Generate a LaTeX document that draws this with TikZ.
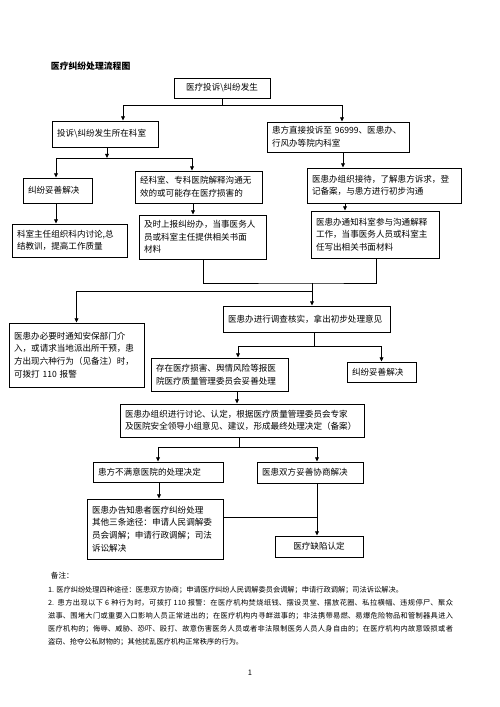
\documentclass[tikz,border=0pt]{standalone}
\usepackage{fontspec}
\setmainfont{Noto Sans CJK SC}
\usetikzlibrary{arrows.meta}
\XeTeXlinebreaklocale "zh"
\XeTeXlinebreakskip = 0pt plus 1pt

\begin{document}
\begin{tikzpicture}[x=1.1906pt, y=-1.1906pt,
		box/.style={draw, line width=1.1pt, inner xsep=6pt, inner ysep=0pt, align=left, font=\fontsize{10.2}{15}\selectfont},
		link/.style={line width=0.9pt},
		arr/.style={line width=0.9pt, -{Triangle[length=5pt,width=4.5pt]}}]
		\useasboundingbox (0,0) rectangle (500,707);
		\node [anchor=west, font=\bfseries\fontsize{10.5}{12}\selectfont] (title) at (48,66) {医疗纠纷处理流程图};

		% upper part of the flow
		\node [box, align=center, minimum width=114.3pt, minimum height=23.8pt] (start) at (222,88) {医疗投诉\textbackslash 纠纷发生};
		\node [box, text width=114.2pt, minimum height=31pt] (place) at (105,134) {投诉\textbackslash 纠纷发生所在科室};
		\node [box, text width=157.1pt, minimum height=35.7pt] (direct) at (338,137) {患方直接投诉至 96999、医患办、\\行风办等院内科室};
		\node [box, text width=70.2pt, minimum height=29.8pt] (done1) at (57.5,190.5) {纠纷妥善解决};
		\node [box, text width=139.2pt, minimum height=38.1pt] (fail) at (198.5,187) {经科室、专科医院解释沟通无\\效的或可能存在医疗损害的};
		\node [box, text width=171.4pt, minimum height=41.7pt] (receive) at (384,185.5) {医患办组织接待，了解患方诉求，登\\记备案，与患方进行初步沟通};
		\node [box, text width=124.9pt, minimum height=39.3pt] (summary) at (69.5,240.5) {科室主任组织科内讨论,总\\结教训，提高工作质量};
		\node [box, text width=139.2pt, minimum height=52.4pt] (report) at (202.5,237) {及时上报纠纷办，当事医务人\\员或科室主任提供相关书面\\材料};
		\node [box, text width=140.4pt, minimum height=56pt] (notify) at (375,234.5) {医患办通知科室参与沟通解释\\工作，当事医务人员或科室主\\任写出相关书面材料};

		% middle part
		\node [box, text width=148.7pt, minimum height=76.2pt] (police) at (76.5,355) {医患办必要时通知安保部门介\\入，或请求当地派出所干预，患\\方出现六种行为（见备注）时，\\可拨打 110 报警};
		\node [box, text width=186.8pt, minimum height=31pt] (check) at (306.5,319) {医患办进行调查核实，拿出初步处理意见};
		\node [box, text width=151.1pt, minimum height=39.3pt] (harm) at (219.5,374.5) {存在医疗损害、舆情风险等报医\\院医疗质量管理委员会妥善处理};
		\node [box, text width=70.2pt, minimum height=23.8pt] (done2) at (381.5,372) {纠纷妥善解决};
		\node [box, text width=278.5pt, minimum height=39.3pt] (decide) at (242,420.5) {医患办组织进行讨论、认定，根据医疗质量管理委员会专家\\及医院安全领导小组意见、建议，形成最终处理决定（备案）};

		% lower part
		\node [box, text width=142.8pt, minimum height=23.8pt] (unhappy) at (158,472) {患方不满意医院的处理决定};
		\node [box, text width=114.2pt, minimum height=25pt] (agree) at (310,472.5) {医患双方妥善协商解决};
		\node [box, text width=149.9pt, minimum height=71.4pt] (ways) at (155,529) {医患办告知患者医疗纠纷处理\\其他三条途径：申请人民调解委\\员会调解；申请行政调解；司法\\诉讼解决};
		\node [box, align=center, minimum width=104.8pt, minimum height=25pt] (defect) at (319,546.5) {医疗缺陷认定};

		% connectors
		\coordinate (s1) at (222,105);
		\coordinate (s2) at (107,158);
		\coordinate (s3) at (312,283);
		\coordinate (s4) at (312,291);
		\coordinate (s5) at (314,346);
		\coordinate (s6) at (239,447);
		\draw [link] (start.south) -- (s1);
		\draw [arr] (s1) -| (123,0 |- place.north);
		\draw [arr] (s1) -| (342,0 |- direct.north);
		\draw [arr] (107,0 |- place.south) -- (s2);
		\draw [arr] (s2) -| (56,0 |- done1.north);
		\draw [arr] (s2) -| (192,0 |- fail.north);
		\draw [arr] (56,0 |- done1.south) -- (56,0 |- summary.north);
		\draw [arr] (193,0 |- fail.south) -- (193,0 |- report.north);
		\draw [arr] (343,0 |- direct.south) -- (343,0 |- receive.north);
		\draw [arr] (345,0 |- receive.south) -- (345,0 |- notify.north);
		\draw [link] (203,0 |- report.south) |- (s3) -| (376,0 |- notify.south);
		\draw [arr] (s3) -- (s3 |- check.north);
		\draw [arr] (s4) -| (police.north);
		\draw [link] (314,0 |- check.south) -- (s5);
		\draw [arr] (s5) -| (238,0 |- harm.north);
		\draw [arr] (s5) -| (done2.north);
		\draw [arr] (237,0 |- harm.south) -- (237,0 |- decide.north);
		\draw [link] (239,0 |- decide.south) -- (s6);
		\draw [arr] (s6) -| (unhappy.north);
		\draw [arr] (s6) -| (317,0 |- agree.north);
		\draw [arr] (159,0 |- unhappy.south) -- (159,0 |- ways.north);
		\draw [arr] (317,0 |- agree.south) -- (317,0 |- defect.north);
		\draw [link] (ways.east |- 0,517) -- (317,517);

		% notes
		\node [anchor=west, font=\fontsize{9}{12}\selectfont] (notehead) at (48,576) {备注：};
		\node [anchor=north west, inner sep=0pt, text width=482pt, align=justify, font=\fontsize{8.6}{15.5}\selectfont] (notes) at (48,586) {1. 医疗纠纷处理四种途径：医患双方协商；申请医疗纠纷人民调解委员会调解；申请行政调解；司法诉讼解决。\\
2. 患方出现以下 6 种行为时，可拨打 110 报警：在医疗机构焚烧纸钱、摆设灵堂、摆放花圈、私拉横幅、违规停尸、聚众\linebreak 滋事、围堵大门或重要入口影响人员正常进出的；在医疗机构内寻衅滋事的；非法携带易燃、易爆危险物品和管制器具进入\linebreak 医疗机构的；侮辱、威胁、恐吓、殴打、故意伤害医务人员或者非法限制医务人员人身自由的；在医疗机构内故意毁损或者\linebreak 盗窃、抢夺公私财物的；其他扰乱医疗机构正常秩序的行为。};
		\node [font=\fontsize{9}{12}\selectfont] (page) at (250,673) {1};
\end{tikzpicture}
\end{document}
